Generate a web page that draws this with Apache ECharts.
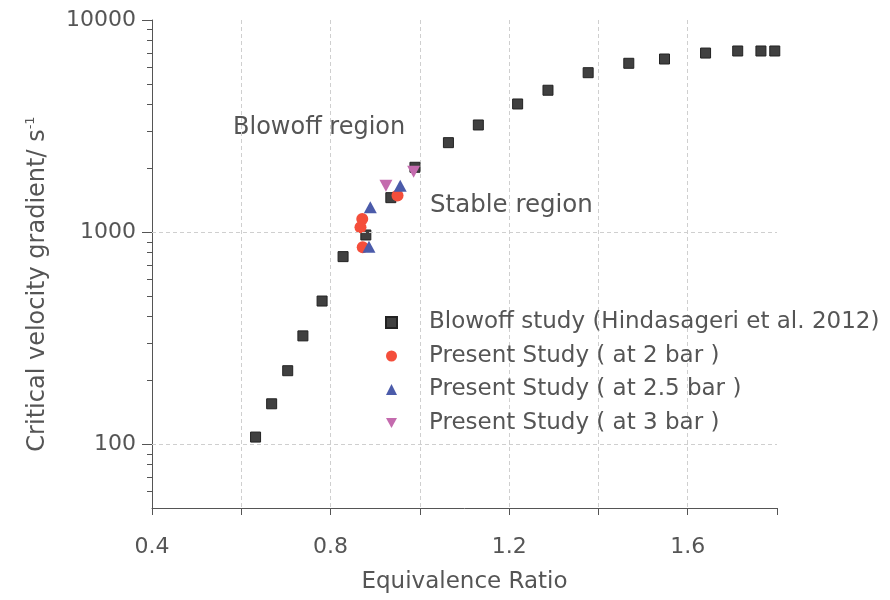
<!DOCTYPE html>
<html>
<head>
<meta charset="utf-8">
<script src="https://cdn.jsdelivr.net/npm/echarts@6/dist/echarts.min.js"></script>
<style>html,body{margin:0;padding:0;background:#fff;}#c{width:890px;height:600px;}</style>
</head>
<body>
<div id="c"></div>
<script>
// ---- data ----
const blowoffX = [0.632,0.668,0.704,0.738,0.781,0.828,0.879,0.935,0.989,1.064,1.131,1.219,1.287,1.377,1.468,1.548,1.640,1.712,1.764,1.795];
const blowoffY = [108,155,222,324,473,766,969,1453,2021,2640,3199,4018,4664,5643,6250,6547,6985,7143,7143,7143];
const bar2X = [0.871,0.867,0.872,0.950];
const bar2Y = [1153,1054,848,1487];
const bar25X = [0.889,0.886,0.956];
const bar25Y = [1309,853,1655];
const bar3X = [0.924,0.986];
const bar3Y = [1655,1927];
const seriesNames = ['Blowoff study (Hindasageri et al. 2012)','Present Study ( at 2 bar )','Present Study ( at 2.5 bar )','Present Study ( at 3 bar )'];
const xLabeled = [0.4,0.8,1.2,1.6];
const yMajor = [100,1000,10000];
const yMinor = [60,70,80,90,200,300,400,500,600,700,800,900,2000,3000,4000,5000,6000,7000,8000,9000];
const yGrid = [100,1000];
const annotations = [{text:'Blowoff region'},{text:'Stable region'}];

const pairs = (xs, ys) => xs.map((x,i)=>[x, ys[i]]);
const FONT = 'DejaVu Sans';
const TXT = '#555555';

const chart = echarts.init(document.getElementById('c'), null, {renderer:'canvas'});
chart.setOption({
  animation:false,
  backgroundColor:'#ffffff',
  textStyle:{fontFamily:FONT},
  grid:{left:152, right:113, top:20, bottom:92, containLabel:false},
  xAxis:{
    type:'value', min:0.4, max:1.8, interval:0.2,
    axisLine:{show:true, lineStyle:{color:'#555', width:1}},
    axisTick:{show:true, inside:false, length:7, lineStyle:{color:'#555'}},
    axisLabel:{
      margin:28, fontSize:22, color:TXT, fontFamily:FONT,
      formatter:(v)=>{ const r=Math.round(v*10)/10; return xLabeled.some(t=>Math.abs(t-r)<1e-6) ? r.toFixed(1) : ''; }
    },
    splitLine:{show:true, showMinLine:false, showMaxLine:false, lineStyle:{color:'#cfcfcf', type:[4,3], width:1}},
    name:'Equivalence Ratio', nameLocation:'middle', nameGap:63,
    nameTextStyle:{fontSize:23, color:TXT, fontFamily:FONT}
  },
  yAxis:[{
    type:'log', logBase:10, min:50, max:10000,
    axisLine:{show:true, lineStyle:{color:'#555', width:1}},
    axisTick:{show:true, inside:false, length:10, customValues:yMajor, lineStyle:{color:'#555'}},
    axisLabel:{margin:16, fontSize:22, color:TXT, fontFamily:FONT, customValues:yMajor, formatter:(v)=>String(Math.round(v))},
    splitLine:{show:false},
    minorTick:{show:false},
    name:'Critical velocity gradient/ s{sup|-1}', nameLocation:'middle', nameGap:100, nameRotate:90,
    nameTextStyle:{fontSize:24, color:TXT, fontFamily:FONT, lineHeight:28, padding:[0,40,0,0],
      rich:{sup:{fontSize:13, color:TXT, fontFamily:FONT, verticalAlign:'top', lineHeight:14}}}
  },{
    type:'log', logBase:10, min:50, max:10000, position:'left',
    axisLine:{show:false},
    axisTick:{show:true, inside:false, length:5, customValues:yMinor, lineStyle:{color:'#555'}},
    axisLabel:{show:false},
    splitLine:{show:false}
  }],
  legend:{
    show:true, orient:'vertical', left:380, top:306, itemWidth:11, itemHeight:11, itemGap:10.5,
    textStyle:{fontSize:23, color:TXT, fontFamily:FONT, padding:[0,0,0,27]},
    data:seriesNames
  },
  graphic:[
    {type:'text', left:233, top:116, style:{text:annotations[0].text, font:'24px "DejaVu Sans"', fill:TXT}},
    {type:'text', left:430, top:193, style:{text:annotations[1].text, font:'24.5px "DejaVu Sans"', fill:TXT}}
  ],
  series:[
    {name:seriesNames[0], type:'scatter', symbol:'rect', symbolSize:10,
     itemStyle:{color:'#404040', borderColor:'#222', borderWidth:1, opacity:1},
     data:pairs(blowoffX, blowoffY), z:2,
     markLine:{silent:true, symbol:['none','none'], label:{show:false},
       lineStyle:{color:'#cfcfcf', type:[4,3], width:1},
       data:yGrid.map(v=>({yAxis:v}))}
    },
    {name:seriesNames[1], type:'scatter', symbol:'circle', symbolSize:12,
     itemStyle:{color:'#F44E3B', opacity:1}, data:pairs(bar2X, bar2Y), z:3},
    {name:seriesNames[2], type:'scatter', symbol:'triangle', symbolSize:[13,12],
     itemStyle:{color:'#4B5BAA', opacity:1}, data:pairs(bar25X, bar25Y), z:4},
    {name:seriesNames[3], type:'scatter', symbol:'path://M0,0L10,0L5,9Z', symbolSize:[13,12],
     itemStyle:{color:'#C46BAE', opacity:1}, data:pairs(bar3X, bar3Y), z:5}
  ]
});
</script>
</body>
</html>
